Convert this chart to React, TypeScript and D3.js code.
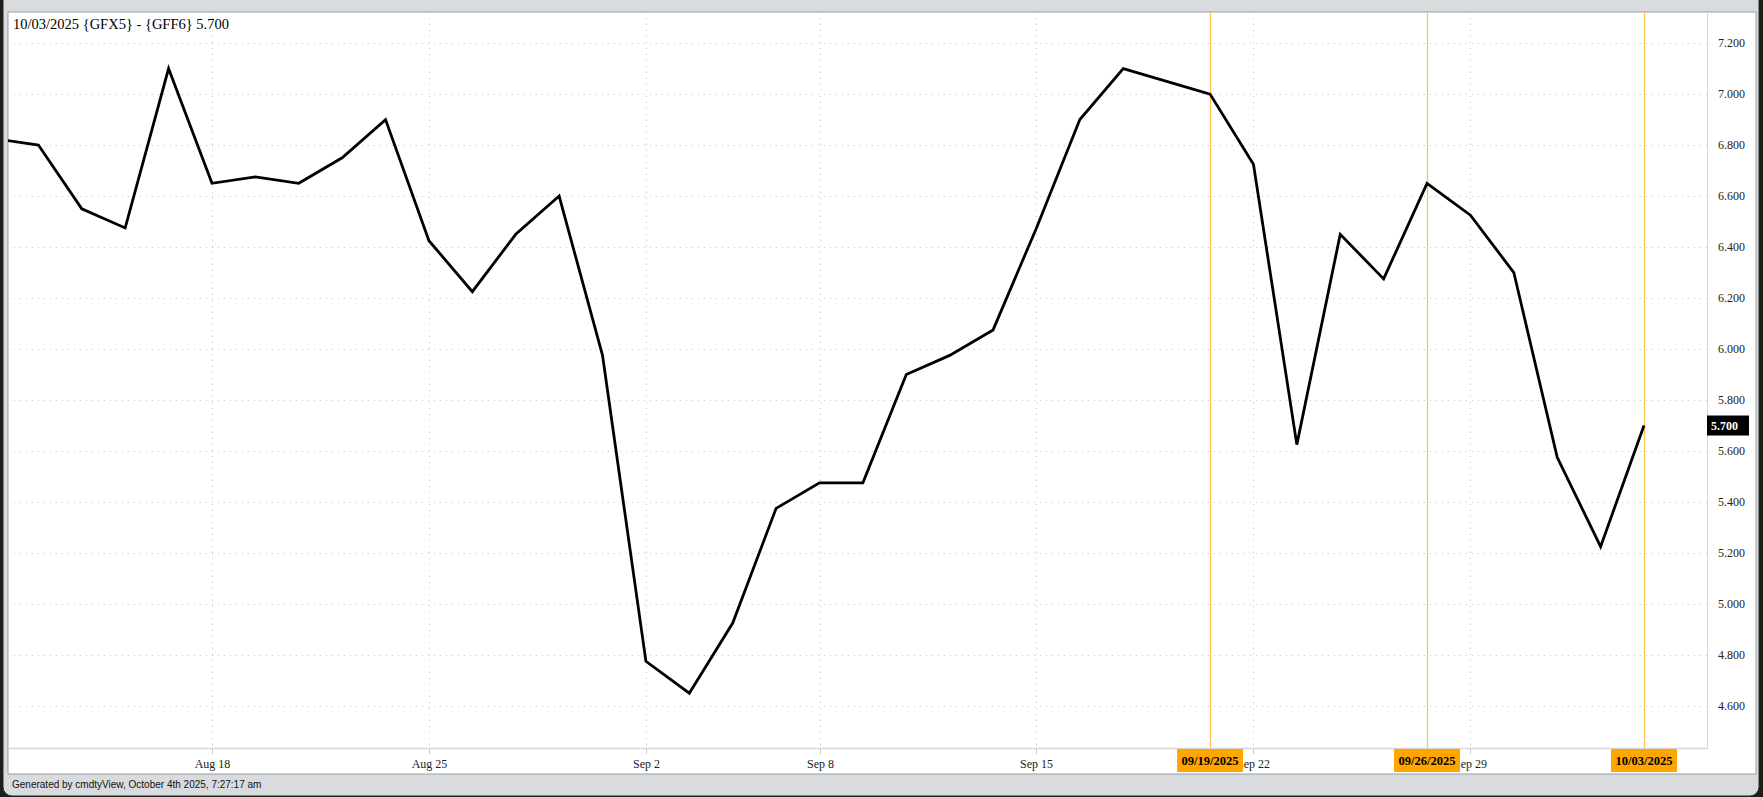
import React from "react";
import * as d3 from "d3";

// trading days, Aug 11 .. Oct 3 2025 (Sep 1 holiday)
const dates = [
  "2025-08-11", "2025-08-12", "2025-08-13", "2025-08-14", "2025-08-15",
  "2025-08-18", "2025-08-19", "2025-08-20", "2025-08-21", "2025-08-22",
  "2025-08-25", "2025-08-26", "2025-08-27", "2025-08-28", "2025-08-29",
  "2025-09-02", "2025-09-03", "2025-09-04", "2025-09-05",
  "2025-09-08", "2025-09-09", "2025-09-10", "2025-09-11", "2025-09-12",
  "2025-09-15", "2025-09-16", "2025-09-17", "2025-09-18", "2025-09-19",
  "2025-09-22", "2025-09-23", "2025-09-24", "2025-09-25", "2025-09-26",
  "2025-09-29", "2025-09-30", "2025-10-01", "2025-10-02", "2025-10-03",
];

const spread = [
  6.825, 6.8, 6.55, 6.475, 7.1,
  6.65, 6.675, 6.65, 6.75, 6.9,
  6.425, 6.225, 6.45, 6.6, 5.975,
  4.775, 4.65, 4.925, 5.375,
  5.475, 5.475, 5.9, 5.975, 6.075,
  6.475, 6.9, 7.1, 7.05, 7.0,
  6.725, 5.625, 6.45, 6.275, 6.65,
  6.525, 6.3, 5.575, 5.225, 5.7,
];

const tickDates = ["2025-08-18", "2025-08-25", "2025-09-02", "2025-09-08", "2025-09-15", "2025-09-22", "2025-09-29"];
const tickLabels = ["Aug 18", "Aug 25", "Sep 2", "Sep 8", "Sep 15", "Sep 22", "Sep 29"];

const yTicks = [4.6, 4.8, 5.0, 5.2, 5.4, 5.6, 5.8, 6.0, 6.2, 6.4, 6.6, 6.8, 7.0, 7.2];

const markerDates = ["2025-09-19", "2025-09-26", "2025-10-03"];
const markerLabels = ["09/19/2025", "09/26/2025", "10/03/2025"];

const title = "10/03/2025 {GFX5} - {GFF6} 5.700";
const lastValue = 5.7;
const footer = "Generated by cmdtyView, October 4th 2025, 7:27:17 am";

const W = 1763;
const H = 797;
const plot = { left: 8, top: 12, right: 1707, bottom: 748 };
const serif = "'Liberation Serif', 'Times New Roman', serif";

export default function App() {
  const x = d3.scaleLinear().domain([0, dates.length - 1]).range([-5, 1644]);
  const y = d3.scaleLinear().domain([4.435, 7.322]).range([plot.bottom, plot.top]);

  const line = d3
    .line<number>()
    .x((d, i) => x(i))
    .y((d) => y(d));

  const gridColor = "#c8c8c8";

  return (
    <svg
      width={W}
      height={H}
      style={{ position: "absolute", left: 0, top: 0, display: "block" }}
    >
      <defs>
        <clipPath id="plotClip">
          <rect x={plot.left} y={plot.top} width={plot.right - plot.left} height={plot.bottom - plot.top} />
        </clipPath>
      </defs>

      {/* desktop + window frame */}
      <rect x={0} y={0} width={W} height={H} fill="#1f1d17" />
      <rect x={3} y={-10} width={1756} height={806} rx={9} fill="#d9dcdf" stroke="#2a2a2a" strokeWidth={1} />
      <rect x={8} y={12} width={1748} height={762} fill="#ffffff" stroke="#8a8a8a" strokeWidth={0.8} />

      {/* grid */}
      <g clipPath="url(#plotClip)">
        {yTicks.map((t) => (
          <line
            key={"gy" + t}
            x1={plot.left}
            x2={plot.right}
            y1={Math.round(y(t)) + 0.5}
            y2={Math.round(y(t)) + 0.5}
            stroke={gridColor}
            strokeDasharray="1,5"
          />
        ))}
        {tickDates.map((d) => {
          const xx = Math.round(x(dates.indexOf(d))) + 0.5;
          return (
            <line key={"gx" + d} x1={xx} x2={xx} y1={plot.top} y2={plot.bottom} stroke={gridColor} strokeDasharray="1,5" />
          );
        })}
      </g>

      {/* axes borders */}
      <line x1={plot.right + 0.5} x2={plot.right + 0.5} y1={plot.top} y2={plot.bottom + 1} stroke="#d6d6d6" strokeWidth={1} />
      <line x1={plot.left} x2={plot.right + 1} y1={plot.bottom + 0.5} y2={plot.bottom + 0.5} stroke="#d6d6d6" strokeWidth={1.5} />

      {/* x ticks + labels */}
      {tickDates.map((d, i) => {
        const xx = Math.round(x(dates.indexOf(d))) + 0.5;
        return (
          <g key={"xt" + d}>
            <line x1={xx} x2={xx} y1={plot.bottom + 1} y2={plot.bottom + 6} stroke="#c8c8c8" />
            <text x={xx} y={768} textAnchor="middle" fontFamily={serif} fontSize={12} fill="#222">
              {tickLabels[i]}
            </text>
          </g>
        );
      })}

      {/* y labels */}
      {yTicks.map((t) => (
        <text key={"yl" + t} x={1718} y={y(t) + 4} fontFamily={serif} fontSize={12} fill="#222">
          {t.toFixed(3)}
        </text>
      ))}

      {/* marker lines */}
      {markerDates.map((d) => {
        const xx = Math.round(x(dates.indexOf(d))) + 0.5;
        return <line key={"ml" + d} x1={xx} x2={xx} y1={plot.top} y2={plot.bottom} stroke="#ffc04d" strokeWidth={1.2} />;
      })}

      {/* series */}
      <path
        d={line(spread) || ""}
        fill="none"
        stroke="#000"
        strokeWidth={2.8}
        strokeLinejoin="miter"
        clipPath="url(#plotClip)"
      />

      {/* marker labels */}
      {markerDates.map((d, i) => {
        const xx = x(dates.indexOf(d));
        return (
          <g key={"mb" + d}>
            <rect x={xx - 33} y={749} width={66} height={23} fill="#ffa600" />
            <text x={xx} y={765} textAnchor="middle" fontFamily={serif} fontWeight="bold" fontSize={12.5} fill="#000">
              {markerLabels[i]}
            </text>
          </g>
        );
      })}

      {/* last value tag */}
      <rect x={1707} y={y(lastValue) - 10} width={42} height={20} fill="#000" />
      <text x={1711} y={y(lastValue) + 4} fontFamily={serif} fontWeight="bold" fontSize={12} fill="#fff">
        {lastValue.toFixed(3)}
      </text>

      {/* title */}
      <text x={13} y={29} fontFamily={serif} fontSize={14.5} fill="#000">
        {title}
      </text>

      {/* footer */}
      <text x={12} y={788} fontFamily="'Liberation Sans', Arial, sans-serif" fontSize={10} fill="#111">
        {footer}
      </text>
    </svg>
  );
}
